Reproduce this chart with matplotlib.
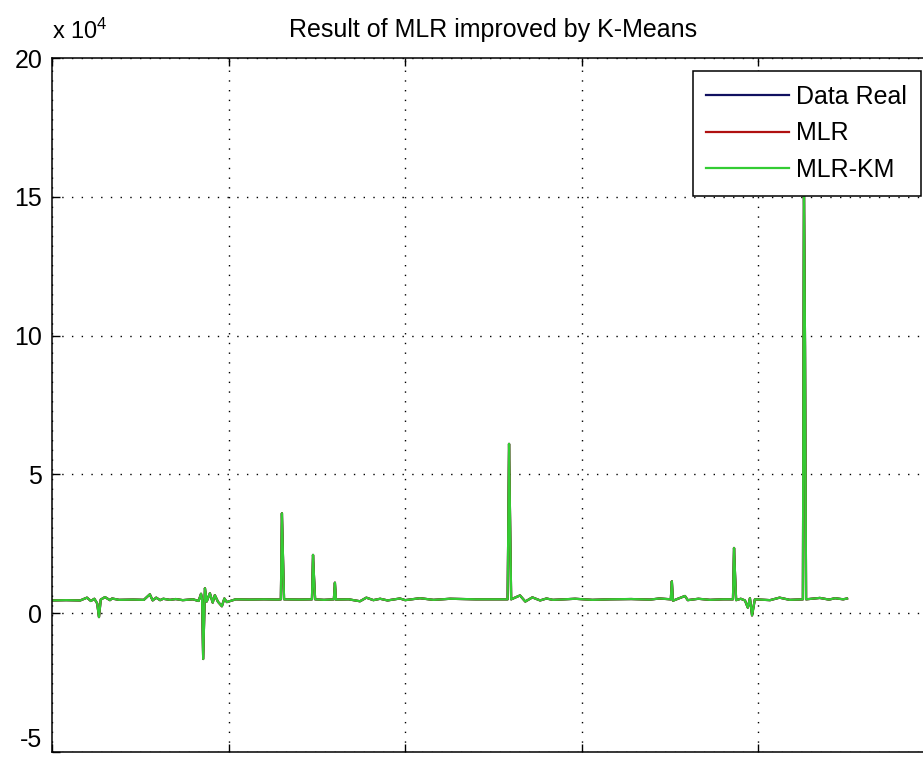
import matplotlib.pyplot as plt

plt.rcParams['font.family'] = ['Liberation Sans', 'DejaVu Sans']
plt.rcParams['mathtext.default'] = 'regular'

# sample index and values (units of 1)
idx = [0, 40, 80, 99, 110, 120, 128, 133, 138, 150, 164, 170, 190, 230, 260,
       277, 285, 295, 306, 315, 334, 350, 370, 399, 415, 422, 425, 428, 433,
       438, 447, 455, 461, 470, 481, 488, 495, 520, 560, 600, 640, 648, 651,
       654, 657, 700, 736, 739, 742, 745, 770, 798, 801, 804, 840, 872, 890,
       910, 929, 950, 985, 1000, 1042, 1080, 1127, 1200, 1290, 1294, 1297,
       1300, 1325, 1340, 1360, 1382, 1400, 1418, 1450, 1481, 1530, 1580, 1640,
       1693, 1720, 1752, 1755, 1758, 1792, 1800, 1830, 1863, 1900, 1928, 1931,
       1934, 1937, 1950, 1962, 1970, 1976, 1982, 1990, 2033, 2060, 2089, 2126,
       2129, 2132, 2135, 2174, 2200, 2217, 2240, 2251]
data_real = [4600, 4700, 4600, 5600, 4400, 5200, 3500, -1400, 4900, 5800, 4700,
             5300, 4800, 4900, 4800, 6800, 4600, 5600, 4700, 5200, 4800, 5100,
             4700, 5000, 4400, 7000, 4800, -16500, 9000, 4200, 7200, 3800, 6500,
             4100, 2500, 5300, 4000, 5000, 4900, 5000, 4900, 5000, 36000, 20000,
             5000, 4900, 5000, 21000, 12500, 5000, 4800, 5000, 11000, 4900, 5000,
             4300, 5600, 4700, 5200, 4600, 5300, 4700, 5400, 4800, 5200, 5000,
             5000, 61000, 33000, 5000, 6400, 4200, 5700, 4600, 5300, 4800, 5000,
             5200, 4800, 5000, 5100, 4900, 5300, 5000, 11500, 4500, 6200, 4700,
             5200, 4800, 5000, 5000, 23500, 13500, 4700, 5200, 4600, 2000, 5400,
             -800, 5000, 4700, 5600, 4800, 5000, 155000, 96000, 5000, 5500, 4900,
             5400, 5000, 5300]
mlr = list(data_real)
mlr_km = list(data_real)

fig = plt.figure(figsize=(9.23, 7.62), dpi=100)
ax = fig.add_axes([52 / 923, 1 - 752 / 762, 883 / 923, 694 / 762])

ax.plot(idx, data_real, color='#101060', lw=1.6, label='Data Real')
ax.plot(idx, mlr, color='#b01010', lw=1.6, label='MLR')
ax.plot(idx, mlr_km, color='#33cc33', lw=1.6, label='MLR-KM')

ax.set_xlim(0, 2500)
ax.set_ylim(-5e4, 20e4)
ax.set_xticks([0, 500, 1000, 1500, 2000, 2500])
ax.set_yticks([-5e4, 0, 5e4, 10e4, 15e4, 20e4])
ax.set_yticklabels(['-5', '0', '5', '10', '15', '20'])
ax.tick_params(direction='in', length=6, width=1, top=True, right=True,
               labelbottom=False, labelsize=18, pad=7)
ax.get_yticklabels()[0].set_va('bottom')
for s in ax.spines.values():
    s.set_linewidth(1.1)
ax.grid(True, color='black', lw=1.0, linestyle=(0, (1, 6)))

ax.text(0, 1.02, r'x 10$^{4}$', transform=ax.transAxes, fontsize=17,
        ha='left', va='bottom')
ax.set_title('Result of MLR improved by K-Means', fontsize=18, pad=15)

leg = ax.legend(loc='upper right', bbox_to_anchor=(921 / 923, 1 - 71 / 762),
                bbox_transform=fig.transFigure, borderaxespad=0, fontsize=18,
                fancybox=False, framealpha=1, edgecolor='black',
                handlelength=3.3, handletextpad=0.3, labelspacing=0.5,
                borderpad=0.55)
leg.get_frame().set_linewidth(1.1)

fig.savefig('out.png', dpi=100)
